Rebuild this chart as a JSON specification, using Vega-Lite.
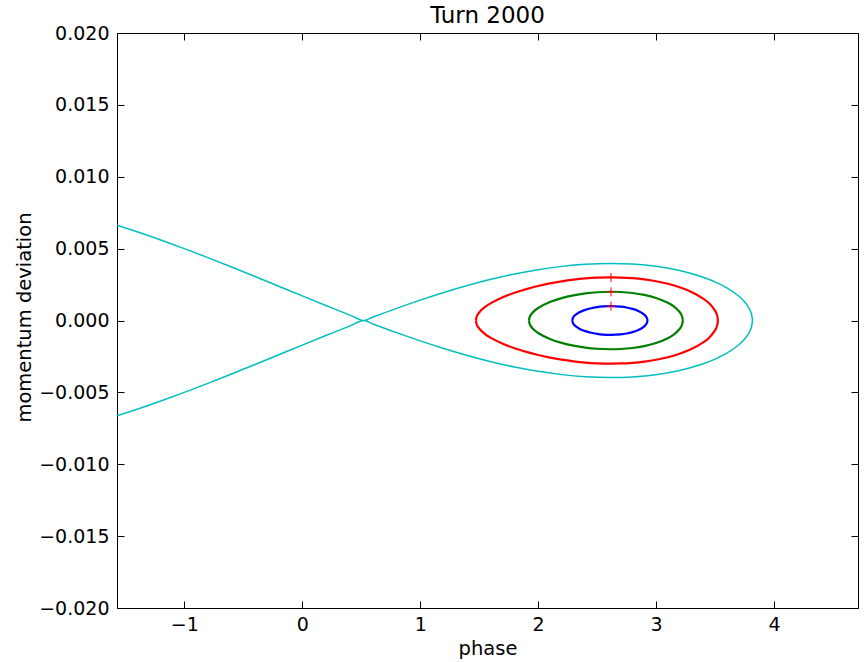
{
  "$schema": "https://vega.github.io/schema/vega-lite/v6.json",
  "width": 741,
  "height": 575,
  "autosize": {"type": "none"},
  "padding": {"left": 117, "top": 33, "right": 7, "bottom": 54},
  "background": "white",
  "title": {"text": "Turn 2000", "font": "DejaVu Sans", "fontSize": 23, "fontWeight": "normal", "color": "black", "baseline": "alphabetic", "offset": -22, "anchor": "middle"},
  "config": {
    "view": {"stroke": null},
    "axis": {
      "grid": false,
      "domainColor": "black", "domainWidth": 1,
      "tickColor": "black", "tickWidth": 1, "tickSize": -7,
      "labelFont": "DejaVu Sans", "labelFontSize": 19, "labelColor": "black",
      "titleFont": "DejaVu Sans", "titleFontSize": 19.5, "titleFontWeight": "normal", "titleColor": "black"
    }
  },
  "data": {"values": [
    {"s":"sep","o":1,"x":-1.5708,"y":0.006634},{"s":"sep","o":2,"x":-1.4,"y":0.006175},{"s":"sep","o":3,"x":-1.2,"y":0.005604},{"s":"sep","o":4,"x":-1.0,"y":0.005001},{"s":"sep","o":5,"x":-0.8,"y":0.004372},{"s":"sep","o":6,"x":-0.6,"y":0.003722},{"s":"sep","o":7,"x":-0.4,"y":0.003059},{"s":"sep","o":8,"x":-0.2,"y":0.002387},{"s":"sep","o":9,"x":0,"y":0.001714},{"s":"sep","o":10,"x":0.2,"y":0.001048},{"s":"sep","o":11,"x":0.4,"y":0.000394},{"s":"sep","o":12,"x":0.5236,"y":0},{"s":"sep","o":13,"x":0.6,"y":0.000239},{"s":"sep","o":14,"x":0.8,"y":0.000846},{"s":"sep","o":15,"x":1.0,"y":0.001419},{"s":"sep","o":16,"x":1.2,"y":0.001951},{"s":"sep","o":17,"x":1.4,"y":0.002435},{"s":"sep","o":18,"x":1.6,"y":0.002866},{"s":"sep","o":19,"x":1.8,"y":0.003235},{"s":"sep","o":20,"x":2.0,"y":0.003537},{"s":"sep","o":21,"x":2.2,"y":0.003765},{"s":"sep","o":22,"x":2.4,"y":0.003912},{"s":"sep","o":23,"x":2.618,"y":0.003969},{"s":"sep","o":24,"x":2.8,"y":0.003926},{"s":"sep","o":25,"x":3.0,"y":0.00377},{"s":"sep","o":26,"x":3.2,"y":0.003479},{"s":"sep","o":27,"x":3.4,"y":0.003013},{"s":"sep","o":28,"x":3.5,"y":0.002689},{"s":"sep","o":29,"x":3.6,"y":0.002273},{"s":"sep","o":30,"x":3.7,"y":0.001702},{"s":"sep","o":31,"x":3.75,"y":0.001299},{"s":"sep","o":32,"x":3.78,"y":0.000969},{"s":"sep","o":33,"x":3.8,"y":0.000657},{"s":"sep","o":34,"x":3.81,"y":0.000419},{"s":"sep","o":35,"x":3.8168,"y":0},
    {"s":"sep","o":36,"x":3.81,"y":-0.000419},{"s":"sep","o":37,"x":3.8,"y":-0.000657},{"s":"sep","o":38,"x":3.78,"y":-0.000969},{"s":"sep","o":39,"x":3.75,"y":-0.001299},{"s":"sep","o":40,"x":3.7,"y":-0.001702},{"s":"sep","o":41,"x":3.6,"y":-0.002273},{"s":"sep","o":42,"x":3.5,"y":-0.002689},{"s":"sep","o":43,"x":3.4,"y":-0.003013},{"s":"sep","o":44,"x":3.2,"y":-0.003479},{"s":"sep","o":45,"x":3.0,"y":-0.00377},{"s":"sep","o":46,"x":2.8,"y":-0.003926},{"s":"sep","o":47,"x":2.618,"y":-0.003969},{"s":"sep","o":48,"x":2.4,"y":-0.003912},{"s":"sep","o":49,"x":2.2,"y":-0.003765},{"s":"sep","o":50,"x":2.0,"y":-0.003537},{"s":"sep","o":51,"x":1.8,"y":-0.003235},{"s":"sep","o":52,"x":1.6,"y":-0.002866},{"s":"sep","o":53,"x":1.4,"y":-0.002435},{"s":"sep","o":54,"x":1.2,"y":-0.001951},{"s":"sep","o":55,"x":1.0,"y":-0.001419},{"s":"sep","o":56,"x":0.8,"y":-0.000846},{"s":"sep","o":57,"x":0.6,"y":-0.000239},{"s":"sep","o":58,"x":0.5236,"y":0},{"s":"sep","o":59,"x":0.4,"y":-0.000394},{"s":"sep","o":60,"x":0.2,"y":-0.001048},{"s":"sep","o":61,"x":0,"y":-0.001714},{"s":"sep","o":62,"x":-0.2,"y":-0.002387},{"s":"sep","o":63,"x":-0.4,"y":-0.003059},{"s":"sep","o":64,"x":-0.6,"y":-0.003722},{"s":"sep","o":65,"x":-0.8,"y":-0.004372},{"s":"sep","o":66,"x":-1.0,"y":-0.005001},{"s":"sep","o":67,"x":-1.2,"y":-0.005604},{"s":"sep","o":68,"x":-1.4,"y":-0.006175},{"s":"sep","o":69,"x":-1.5708,"y":-0.006634},

    {"s":"b","o":1,"x":2.2889,"y":0},{"s":"b","o":2,"x":2.3,"y":0.00025},{"s":"b","o":3,"x":2.31,"y":0.000344},{"s":"b","o":4,"x":2.35,"y":0.000571},{"s":"b","o":5,"x":2.4,"y":0.000741},{"s":"b","o":6,"x":2.45,"y":0.000854},{"s":"b","o":7,"x":2.5,"y":0.00093},{"s":"b","o":8,"x":2.55,"y":0.000977},{"s":"b","o":9,"x":2.618,"y":0.001},{"s":"b","o":10,"x":2.7,"y":0.000965},{"s":"b","o":11,"x":2.75,"y":0.000907},{"s":"b","o":12,"x":2.8,"y":0.000812},{"s":"b","o":13,"x":2.85,"y":0.000665},{"s":"b","o":14,"x":2.9,"y":0.000413},{"s":"b","o":15,"x":2.92,"y":0.000214},{"s":"b","o":16,"x":2.9271,"y":0},
    {"s":"b","o":17,"x":2.92,"y":-0.000214},{"s":"b","o":18,"x":2.9,"y":-0.000413},{"s":"b","o":19,"x":2.85,"y":-0.000665},{"s":"b","o":20,"x":2.8,"y":-0.000812},{"s":"b","o":21,"x":2.75,"y":-0.000907},{"s":"b","o":22,"x":2.7,"y":-0.000965},{"s":"b","o":23,"x":2.618,"y":-0.001},{"s":"b","o":24,"x":2.55,"y":-0.000977},{"s":"b","o":25,"x":2.5,"y":-0.00093},{"s":"b","o":26,"x":2.45,"y":-0.000854},{"s":"b","o":27,"x":2.4,"y":-0.000741},{"s":"b","o":28,"x":2.35,"y":-0.000571},{"s":"b","o":29,"x":2.31,"y":-0.000344},{"s":"b","o":30,"x":2.3,"y":-0.00025},{"s":"b","o":31,"x":2.2889,"y":0},

    {"s":"g","o":1,"x":1.9222,"y":0},{"s":"g","o":2,"x":1.93,"y":0.00028},{"s":"g","o":3,"x":1.95,"y":0.000527},{"s":"g","o":4,"x":2.0,"y":0.000872},{"s":"g","o":5,"x":2.1,"y":0.001284},{"s":"g","o":6,"x":2.2,"y":0.001557},{"s":"g","o":7,"x":2.3,"y":0.00175},{"s":"g","o":8,"x":2.4,"y":0.001884},{"s":"g","o":9,"x":2.5,"y":0.001966},{"s":"g","o":10,"x":2.618,"y":0.002},{"s":"g","o":11,"x":2.7,"y":0.001983},{"s":"g","o":12,"x":2.8,"y":0.001913},{"s":"g","o":13,"x":2.9,"y":0.001781},{"s":"g","o":14,"x":3.0,"y":0.001568},{"s":"g","o":15,"x":3.1,"y":0.001232},{"s":"g","o":16,"x":3.15,"y":0.000981},{"s":"g","o":17,"x":3.2,"y":0.000591},{"s":"g","o":18,"x":3.21,"y":0.000469},{"s":"g","o":19,"x":3.22,"y":0.000296},{"s":"g","o":20,"x":3.2266,"y":0},
    {"s":"g","o":21,"x":3.22,"y":-0.000296},{"s":"g","o":22,"x":3.21,"y":-0.000469},{"s":"g","o":23,"x":3.2,"y":-0.000591},{"s":"g","o":24,"x":3.15,"y":-0.000981},{"s":"g","o":25,"x":3.1,"y":-0.001232},{"s":"g","o":26,"x":3.0,"y":-0.001568},{"s":"g","o":27,"x":2.9,"y":-0.001781},{"s":"g","o":28,"x":2.8,"y":-0.001913},{"s":"g","o":29,"x":2.7,"y":-0.001983},{"s":"g","o":30,"x":2.618,"y":-0.002},{"s":"g","o":31,"x":2.5,"y":-0.001966},{"s":"g","o":32,"x":2.4,"y":-0.001884},{"s":"g","o":33,"x":2.3,"y":-0.00175},{"s":"g","o":34,"x":2.2,"y":-0.001557},{"s":"g","o":35,"x":2.1,"y":-0.001284},{"s":"g","o":36,"x":2.0,"y":-0.000872},{"s":"g","o":37,"x":1.95,"y":-0.000527},{"s":"g","o":38,"x":1.93,"y":-0.00028},{"s":"g","o":39,"x":1.9222,"y":0},

    {"s":"r","o":1,"x":1.4727,"y":0},{"s":"r","o":2,"x":1.48,"y":0.000288},{"s":"r","o":3,"x":1.5,"y":0.000558},{"s":"r","o":4,"x":1.55,"y":0.000941},{"s":"r","o":5,"x":1.6,"y":0.001208},{"s":"r","o":6,"x":1.7,"y":0.001613},{"s":"r","o":7,"x":1.8,"y":0.001927},{"s":"r","o":8,"x":1.9,"y":0.002185},{"s":"r","o":9,"x":2.0,"y":0.0024},{"s":"r","o":10,"x":2.1,"y":0.002579},{"s":"r","o":11,"x":2.2,"y":0.002725},{"s":"r","o":12,"x":2.3,"y":0.002839},{"s":"r","o":13,"x":2.4,"y":0.002924},{"s":"r","o":14,"x":2.5,"y":0.002977},{"s":"r","o":15,"x":2.618,"y":0.003},{"s":"r","o":16,"x":2.7,"y":0.002989},{"s":"r","o":17,"x":2.8,"y":0.002943},{"s":"r","o":18,"x":2.9,"y":0.002858},{"s":"r","o":19,"x":3.0,"y":0.002731},{"s":"r","o":20,"x":3.1,"y":0.002553},{"s":"r","o":21,"x":3.2,"y":0.002313},{"s":"r","o":22,"x":3.3,"y":0.001988},{"s":"r","o":23,"x":3.4,"y":0.001525},{"s":"r","o":24,"x":3.45,"y":0.001195},{"s":"r","o":25,"x":3.5,"y":0.000691},{"s":"r","o":26,"x":3.51,"y":0.000529},{"s":"r","o":27,"x":3.52,"y":0.000285},{"s":"r","o":28,"x":3.5241,"y":0},
    {"s":"r","o":29,"x":3.52,"y":-0.000285},{"s":"r","o":30,"x":3.51,"y":-0.000529},{"s":"r","o":31,"x":3.5,"y":-0.000691},{"s":"r","o":32,"x":3.45,"y":-0.001195},{"s":"r","o":33,"x":3.4,"y":-0.001525},{"s":"r","o":34,"x":3.3,"y":-0.001988},{"s":"r","o":35,"x":3.2,"y":-0.002313},{"s":"r","o":36,"x":3.1,"y":-0.002553},{"s":"r","o":37,"x":3.0,"y":-0.002731},{"s":"r","o":38,"x":2.9,"y":-0.002858},{"s":"r","o":39,"x":2.8,"y":-0.002943},{"s":"r","o":40,"x":2.7,"y":-0.002989},{"s":"r","o":41,"x":2.618,"y":-0.003},{"s":"r","o":42,"x":2.5,"y":-0.002977},{"s":"r","o":43,"x":2.4,"y":-0.002924},{"s":"r","o":44,"x":2.3,"y":-0.002839},{"s":"r","o":45,"x":2.2,"y":-0.002725},{"s":"r","o":46,"x":2.1,"y":-0.002579},{"s":"r","o":47,"x":2.0,"y":-0.0024},{"s":"r","o":48,"x":1.9,"y":-0.002185},{"s":"r","o":49,"x":1.8,"y":-0.001927},{"s":"r","o":50,"x":1.7,"y":-0.001613},{"s":"r","o":51,"x":1.6,"y":-0.001208},{"s":"r","o":52,"x":1.55,"y":-0.000941},{"s":"r","o":53,"x":1.5,"y":-0.000558},{"s":"r","o":54,"x":1.48,"y":-0.000288},{"s":"r","o":55,"x":1.4727,"y":0},

    {"s":"m","o":1,"x":2.618,"y":0.001},{"s":"m","o":2,"x":2.618,"y":0.002},{"s":"m","o":3,"x":2.618,"y":0.003}
  ]},
  "resolve": {"axis": {"x": "independent", "y": "independent"}},
  "layer": [
    {
      "transform": [{"filter": "datum.s === 'sep'"}],
      "mark": {"type": "line", "color": "#00BFBF", "strokeWidth": 1.5, "interpolate": "catmull-rom", "clip": true},
      "encoding": {
        "x": {"field": "x", "type": "quantitative", "scale": {"domain": [-1.5708, 4.7124], "nice": false, "zero": false},
              "axis": {"orient": "bottom", "values": [-1, 0, 1, 2, 3, 4], "format": "d", "title": "phase", "ticks": false, "tickSize": 0, "labelPadding": 22, "labelBaseline": "alphabetic", "titleY": 46, "titleBaseline": "alphabetic"}},
        "y": {"field": "y", "type": "quantitative", "scale": {"domain": [-0.02, 0.02], "nice": false, "zero": false},
              "axis": {"orient": "left", "values": [-0.02, -0.015, -0.01, -0.005, 0, 0.005, 0.01, 0.015, 0.02], "format": ".3f", "title": "momentum deviation", "ticks": false, "tickSize": 0, "labelPadding": 8, "titleX": -87, "titleY": 284, "titleBaseline": "alphabetic", "titleAngle": 270, "titleAlign": "center"}},
        "order": {"field": "o", "type": "quantitative"}
      }
    },
    {
      "transform": [{"filter": "datum.s === 'b' || datum.s === 'g' || datum.s === 'r'"}],
      "mark": {"type": "line", "strokeWidth": 2.2, "interpolate": "catmull-rom", "clip": true},
      "encoding": {
        "x": {"field": "x", "type": "quantitative", "scale": {"domain": [-1.5708, 4.7124], "nice": false, "zero": false},
              "axis": {"orient": "bottom", "values": [-1, 0, 1, 2, 3, 4], "labels": false, "domain": false, "title": null}},
        "y": {"field": "y", "type": "quantitative", "scale": {"domain": [-0.02, 0.02], "nice": false, "zero": false},
              "axis": {"orient": "left", "values": [-0.02, -0.015, -0.01, -0.005, 0, 0.005, 0.01, 0.015, 0.02], "labels": false, "domain": false, "title": null}},
        "color": {"field": "s", "type": "nominal", "scale": {"domain": ["b", "g", "r"], "range": ["#0000FF", "#008000", "#FF0000"]}, "legend": null},
        "order": {"field": "o", "type": "quantitative"}
      }
    },
    {
      "transform": [{"filter": "datum.s === 'm'"}],
      "mark": {"type": "point", "shape": "M0,-1V1M-1,0H1", "filled": false, "stroke": "#FF0000", "strokeWidth": 1, "size": 81, "opacity": 1},
      "encoding": {
        "x": {"field": "x", "type": "quantitative", "scale": {"domain": [-1.5708, 4.7124], "nice": false, "zero": false},
              "axis": {"orient": "top", "values": [-1, 0, 1, 2, 3, 4], "labels": false, "title": null}},
        "y": {"field": "y", "type": "quantitative", "scale": {"domain": [-0.02, 0.02], "nice": false, "zero": false},
              "axis": {"orient": "right", "values": [-0.02, -0.015, -0.01, -0.005, 0, 0.005, 0.01, 0.015, 0.02], "labels": false, "title": null}}
      }
    }
  ]
}
